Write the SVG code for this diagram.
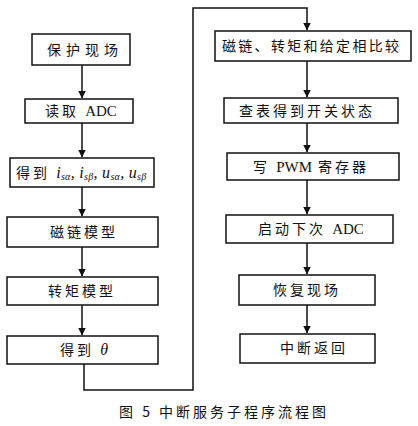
<svg xmlns="http://www.w3.org/2000/svg" width="418" height="426" viewBox="0 0 418 426">
<style>
.box{fill:#fff;stroke:#111;stroke-width:1.5}
.t{font-family:"Noto Sans CJK SC","Noto Sans",sans-serif;font-size:14px;fill:#111;letter-spacing:3px}
.s{font-family:"Liberation Serif",serif}
.m{font-family:"Liberation Serif",serif;font-style:italic}
.c{stroke:#111;stroke-width:1.5;fill:none}
.cap{font-family:"Noto Sans CJK SC",sans-serif;font-size:14px;fill:#111;letter-spacing:3px}
</style>
<defs>
<marker id="ah" viewBox="0 0 8 10" refX="7.5" refY="5" markerWidth="8" markerHeight="10" markerUnits="userSpaceOnUse" orient="auto">
<path d="M0,1 L8,5 L0,9 z" fill="#111"/>
</marker>
</defs>
<rect width="418" height="426" fill="#fff"/>
<g id="connectors">
<path class="c" d="M82,65 V98" marker-end="url(#ah)"/>
<path class="c" d="M82,123 V157" marker-end="url(#ah)"/>
<path class="c" d="M82,187 V216" marker-end="url(#ah)"/>
<path class="c" d="M82,247 V276" marker-end="url(#ah)"/>
<path class="c" d="M82,305 V335" marker-end="url(#ah)"/>
<path class="c" d="M84,364 V390 H193 V8 H307 V30" marker-end="url(#ah)"/>
<path class="c" d="M307,61 V97" marker-end="url(#ah)"/>
<path class="c" d="M307,123 V152" marker-end="url(#ah)"/>
<path class="c" d="M307,180 V214" marker-end="url(#ah)"/>
<path class="c" d="M307,243 V274" marker-end="url(#ah)"/>
<path class="c" d="M307,305 V333" marker-end="url(#ah)"/>
</g>
<g id="n1"><rect class="box" x="32" y="34" width="98" height="31"/><text class="t" x="47" y="55" style="letter-spacing:5px">保护现场</text></g>
<g id="n2"><rect class="box" x="25" y="99" width="108" height="24"/><text class="t" x="45" y="116">读取 <tspan class="s" style="letter-spacing:0;font-size:15px">ADC</tspan></text></g>
<g id="n3"><rect class="box" x="10" y="158" width="144" height="29"/><text class="t" x="16" y="178" style="letter-spacing:3px">得到 <tspan class="m" style="letter-spacing:0.3px;font-size:16px">i<tspan font-size="10" dy="2">sα</tspan><tspan dy="-2">, i</tspan><tspan font-size="10" dy="2">sβ</tspan><tspan dy="-2">, u</tspan><tspan font-size="10" dy="2">sα</tspan><tspan dy="-2">, u</tspan><tspan font-size="10" dy="2">sβ</tspan></tspan></text></g>
<g id="n4"><rect class="box" x="7" y="217" width="151" height="30"/><text class="t" x="50" y="237">磁链模型</text></g>
<g id="n5"><rect class="box" x="7" y="277" width="151" height="28"/><text class="t" x="48" y="296">转矩模型</text></g>
<g id="n6"><rect class="box" x="7" y="336" width="151" height="28"/><text class="t" x="60" y="355">得到 <tspan class="m" style="font-size:16px">θ</tspan></text></g>
<g id="n7"><rect class="box" x="215" y="31" width="196" height="30"/><text class="t" x="222" y="51" style="letter-spacing:2.3px">磁链、转矩和给定相比较</text></g>
<g id="n8"><rect class="box" x="224" y="98" width="174" height="25"/><text class="t" x="239" y="116">查表得到开关状态</text></g>
<g id="n9"><rect class="box" x="227" y="153" width="172" height="27"/><text class="t" x="253" y="172">写 <tspan class="s" style="letter-spacing:0;font-size:15px">PWM</tspan> 寄存器</text></g>
<g id="n10"><rect class="box" x="226" y="215" width="167" height="28"/><text class="t" x="258" y="234">启动下次 <tspan class="s" style="letter-spacing:0;font-size:15px">ADC</tspan></text></g>
<g id="n11"><rect class="box" x="239" y="275" width="136" height="30"/><text class="t" x="273" y="295">恢复现场</text></g>
<g id="n12"><rect class="box" x="240" y="334" width="135" height="29"/><text class="t" x="280" y="353">中断返回</text></g>
<text class="cap" x="119" y="417">图 5 中断服务子程序流程图</text>
</svg>
